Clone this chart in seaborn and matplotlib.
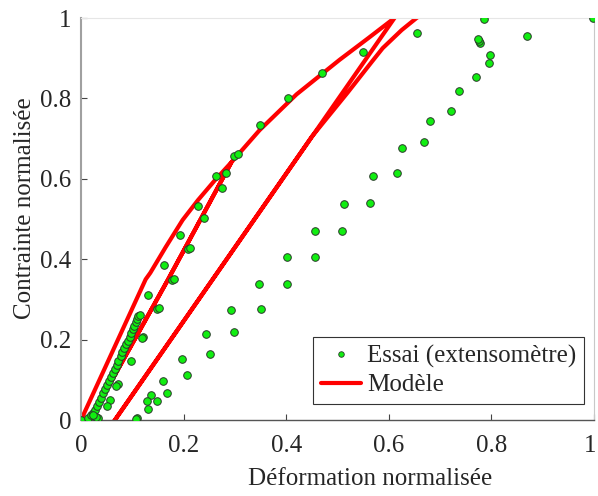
import matplotlib
matplotlib.use("Agg")
import matplotlib.pyplot as plt
import matplotlib.transforms as mtransforms
import seaborn as sns
from matplotlib.lines import Line2D

# Essai (extensomètre) : points mesurés
essai_x = [0.000, 0.014, 0.020, 0.024, 0.027, 0.031, 0.035, 0.039, 0.043, 0.047,
           0.051, 0.055, 0.059, 0.062, 0.066, 0.070, 0.073, 0.077, 0.080, 0.084,
           0.088, 0.0915, 0.095, 0.098, 0.101, 0.104, 0.107, 0.109, 0.111, 0.114,
           0.131, 0.161, 0.193, 0.228, 0.264, 0.298, 0.348, 0.403, 0.470, 0.549,
           0.654, 0.786, 0.997,
           0.869, 0.778, 0.775, 0.773, 0.797, 0.795, 0.770, 0.737, 0.722, 0.680,
           0.669, 0.625, 0.616, 0.569, 0.563, 0.512, 0.508, 0.457, 0.456, 0.401,
           0.401, 0.346, 0.350, 0.293, 0.298, 0.243, 0.252, 0.196, 0.206, 0.159,
           0.167, 0.137, 0.148, 0.129, 0.130, 0.109, 0.107,
           0.121, 0.118, 0.097, 0.072, 0.0675, 0.057, 0.051, 0.034, 0.029, 0.024,
           0.149, 0.152, 0.178, 0.182, 0.209, 0.212, 0.274, 0.283, 0.240, 0.305]
essai_y = [0.000, 0.004, 0.012, 0.018, 0.025, 0.034, 0.045, 0.056, 0.066, 0.077,
           0.088, 0.098, 0.108, 0.118, 0.128, 0.138, 0.148, 0.159, 0.168, 0.178,
           0.188, 0.197, 0.207, 0.216, 0.226, 0.235, 0.244, 0.251, 0.259, 0.262,
           0.311, 0.385, 0.459, 0.532, 0.608, 0.657, 0.734, 0.800, 0.862, 0.916,
           0.962, 0.997, 0.999,
           0.955, 0.939, 0.944, 0.947, 0.908, 0.888, 0.853, 0.818, 0.769, 0.745,
           0.691, 0.676, 0.614, 0.606, 0.541, 0.537, 0.470, 0.470, 0.405, 0.405,
           0.338, 0.338, 0.277, 0.274, 0.218, 0.213, 0.163, 0.153, 0.111, 0.098,
           0.066, 0.062, 0.048, 0.048, 0.027, 0.006, 0.002,
           0.207, 0.205, 0.147, 0.090, 0.085, 0.050, 0.035, 0.004, 0.008, 0.012,
           0.276, 0.278, 0.348, 0.351, 0.425, 0.427, 0.578, 0.614, 0.502, 0.662]

# Modèle : chemin charge / décharge / recharge
modele_x = [0.000, 0.126, 0.135, 0.165, 0.198, 0.228, 0.260, 0.293,
            0.222, 0.169, 0.017, 0.008,
            0.017, 0.169, 0.222, 0.293, 0.348, 0.420, 0.504, 0.560, 0.611,
            0.066, 0.058,
            0.066, 0.450, 0.520, 0.568, 0.588, 0.625, 0.654, 0.700]
modele_y = [0.000, 0.350, 0.366, 0.430, 0.4975, 0.547, 0.595, 0.641,
            0.473, 0.348, 0.000, -0.020,
            0.000, 0.348, 0.473, 0.641, 0.721, 0.810, 0.896, 0.950, 1.000,
            0.000, -0.015,
            0.000, 0.705, 0.815, 0.893, 0.925, 0.970, 1.000, 1.040]

ticks = [0, 0.2, 0.4, 0.6, 0.8, 1]
tick_labels = ['0', '0.2', '0.4', '0.6', '0.8', '1']

sns.set_style("white")
plt.rcParams['font.family'] = ['Liberation Serif', 'DejaVu Serif']

fig = plt.figure(figsize=(5.98, 4.96), dpi=100)
ax = fig.add_axes([0.1355, 0.1532, 0.8579, 0.8105])

sns.lineplot(x=modele_x, y=modele_y, sort=False, estimator=None, color='#ff0000',
             linewidth=3.0, ax=ax, zorder=2)
sns.scatterplot(x=essai_x, y=essai_y, color='#11ee11', edgecolor='#2a3a2a',
                linewidth=0.7, s=30, ax=ax, zorder=3)

ax.set_xlim(0, 1)
ax.set_ylim(0, 1)
ax.set_xticks(ticks)
ax.set_yticks(ticks)
ax.set_xticklabels(tick_labels)
ax.set_yticklabels(tick_labels)
ax.tick_params(axis='both', direction='in', length=4, width=0.8, color='#444444',
               labelsize=18, bottom=True, left=True)
ax.tick_params(axis='x', pad=11)
ax.tick_params(axis='y', pad=7)

# le dernier label "1" reste dans l'image
last = ax.get_xticklabels()[-1]
last.set_transform(last.get_transform() +
                   mtransforms.ScaledTranslation(-4 / 100, 0, fig.dpi_scale_trans))

ax.set_xlabel('Déformation normalisée', fontsize=18, labelpad=8)
ax.set_ylabel('Contrainte normalisée', fontsize=18, labelpad=3)
ax.xaxis.label.set_x(0.564)
ax.yaxis.label.set_y(0.527)

ax.spines['left'].set_color('#a0a0a0')
ax.spines['left'].set_linewidth(1.5)
ax.spines['bottom'].set_color('#555555')
ax.spines['bottom'].set_linewidth(1.0)
ax.spines['top'].set_color('#e6e6e6')
ax.spines['right'].set_color('#c8c8c8')

handles = [Line2D([], [], marker='o', linestyle='none', markersize=4.0,
                  markerfacecolor='#11ee11', markeredgecolor='#2a3a2a', markeredgewidth=0.6),
           Line2D([], [], color='#ff0000', linewidth=3.0)]
leg = ax.legend(handles, ['Essai (extensomètre)', 'Modèle'], loc='lower right',
                bbox_to_anchor=(0.98, 0.04), fontsize=18, fancybox=False,
                framealpha=1, edgecolor='#333333', handlelength=1.6,
                handletextpad=0.25, labelspacing=0.25, borderpad=0.3, borderaxespad=0)
leg.get_frame().set_linewidth(0.8)

fig.savefig('out.png', dpi=100)
